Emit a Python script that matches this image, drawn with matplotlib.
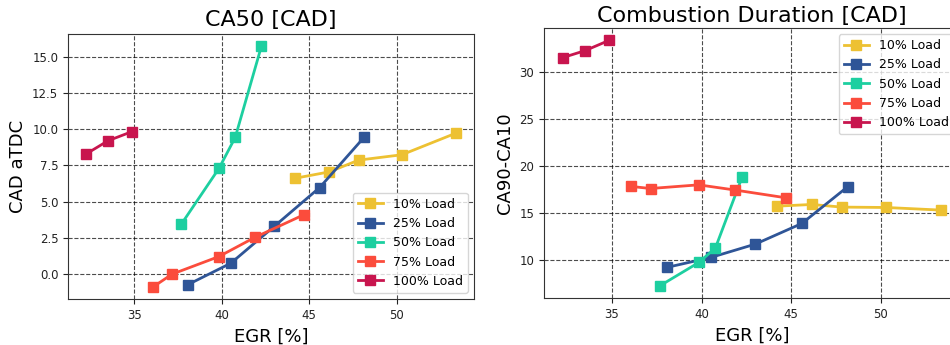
"""Two-panel EGR sweep figure: CA50 and combustion duration per engine load."""

import matplotlib

matplotlib.use("Agg")
import matplotlib.pyplot as plt  # noqa: E402

LOADS = ["10% Load", "25% Load", "50% Load", "75% Load", "100% Load"]
COLORS = ["#EDC132", "#2F5597", "#1DCFA0", "#FB4C3C", "#C8154E"]

# EGR [%] per load
EGR = [
    [44.2, 46.15, 47.83, 50.3, 53.37],
    [38.06, 40.52, 43.0, 45.6, 48.15],
    [37.68, 39.85, 40.77, 42.27],
    [36.07, 37.15, 39.84, 41.89, 44.71],
    [32.26, 33.5, 34.85],
]

# CA50 [CAD aTDC]
CA50 = [
    [6.62, 7.06, 7.87, 8.24, 9.72],
    [-0.72, 0.76, 3.30, 5.98, 9.46],
    [3.44, 7.32, 9.44, 15.74],
    [-0.88, 0.0, 1.22, 2.54, 4.11],
    [8.31, 9.21, 9.83],
]

# CA90-CA10 [CAD]
DURATION = [
    [15.74, 15.92, 15.64, 15.60, 15.32],
    [9.22, 10.28, 11.70, 13.90, 17.80],
    [7.27, 9.75, 11.28, 18.87],
    [17.84, 17.62, 18.01, 17.45, 16.63],
    [31.56, 32.30, 33.40],
]


def style_axes(ax):
    ax.grid(True, color="k", ls="--", lw=0.8, alpha=0.7)
    ax.set_axisbelow(True)
    for spine in ax.spines.values():
        spine.set_color("#333333")
    ax.tick_params(labelsize=8.5, colors="#222222")


def main() -> None:
    fig = plt.figure(figsize=(9.5, 3.45), dpi=100)
    ax1 = fig.add_axes([68 / 950, 46 / 345, 406 / 950, 265 / 345])
    ax2 = fig.add_axes([544 / 950, 47 / 345, 416 / 950, 270 / 345])

    for ax, ydata in ((ax1, CA50), (ax2, DURATION)):
        for lab, col, x, y in zip(LOADS, COLORS, EGR, ydata):
            ax.plot(x, y, color=col, lw=2, marker="s", markersize=7, label=lab)
        style_axes(ax)
        ax.set_xlabel("EGR [%]", fontsize=13)
        ax.set_xticks([35, 40, 45, 50])

    ax1.set_title("CA50 [CAD]", fontsize=16)
    ax1.set_ylabel("CAD aTDC", fontsize=13)
    ax1.legend(loc="lower right", fontsize=9)

    ax2.set_title("Combustion Duration [CAD]", fontsize=16, pad=4)
    ax2.set_ylabel("CA90-CA10", fontsize=13)
    ax2.legend(loc="upper right", fontsize=9)

    fig.savefig("out.png", dpi=100)
    plt.close(fig)


if __name__ == "__main__":
    main()
